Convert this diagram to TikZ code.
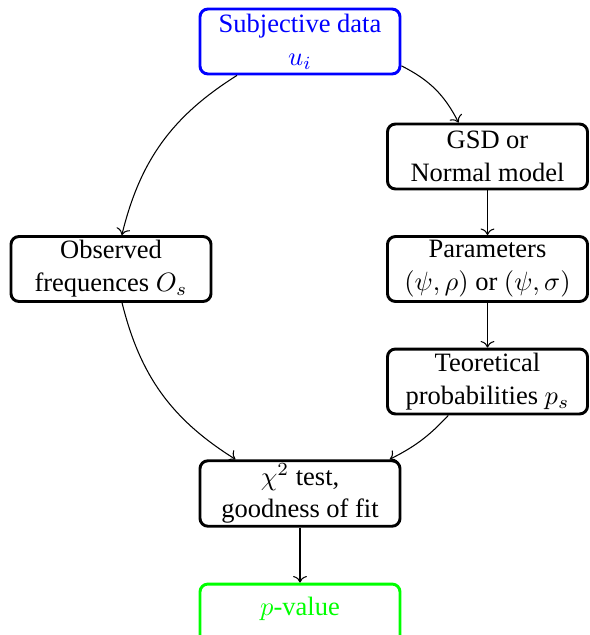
\documentclass[tikz,border=0pt]{standalone}
\usepackage{fontspec}
\setmainfont{Liberation Serif}
\usetikzlibrary{arrows.meta}
\begin{document}
\begin{tikzpicture}[x=0.3774pt,y=-0.3774pt,
  box/.style={draw, rounded corners=3pt, line width=1.1pt, minimum width=75.5pt, minimum height=24.5pt, align=center, inner sep=1pt, font=\fontsize{10}{12.4}\selectfont},
  conn/.style={->, line width=0.4pt}]
\useasboundingbox (0,0) rectangle (589,635);
\node[box, draw=blue, text=blue] (subj) at (300,41.5) {Subjective data\\$u_i$};
\node[box] (gsd) at (487.5,156.5) {GSD or\\Normal model};
\node[box] (obs) at (111,269) {Observed\\frequences $O_s$};
\node[box] (par) at (487.5,269) {Parameters\\$(\psi,\rho)$ or $(\psi,\sigma)$};
\node[box] (teo) at (487.5,381.5) {Teoretical\\probabilities $p_s$};
\node[box] (chi) at (300,493.5) {$\chi^2$ test,\\goodness of fit};
\node[box, draw=green, text=green, text depth=8pt] (pval) at (300,616.5) {$p$-value};
\draw[conn] (subj) to[bend right=22] (obs);
\draw[conn] (subj) to[bend left=18] (gsd);
\draw[conn] (gsd) -- (par);
\draw[conn] (par) -- (teo);
\draw[conn] (obs) to[bend right=22] (chi);
\draw[conn] (teo) to[bend left=10] (chi);
\draw[conn] (chi) -- (pval);
\end{tikzpicture}
\end{document}
